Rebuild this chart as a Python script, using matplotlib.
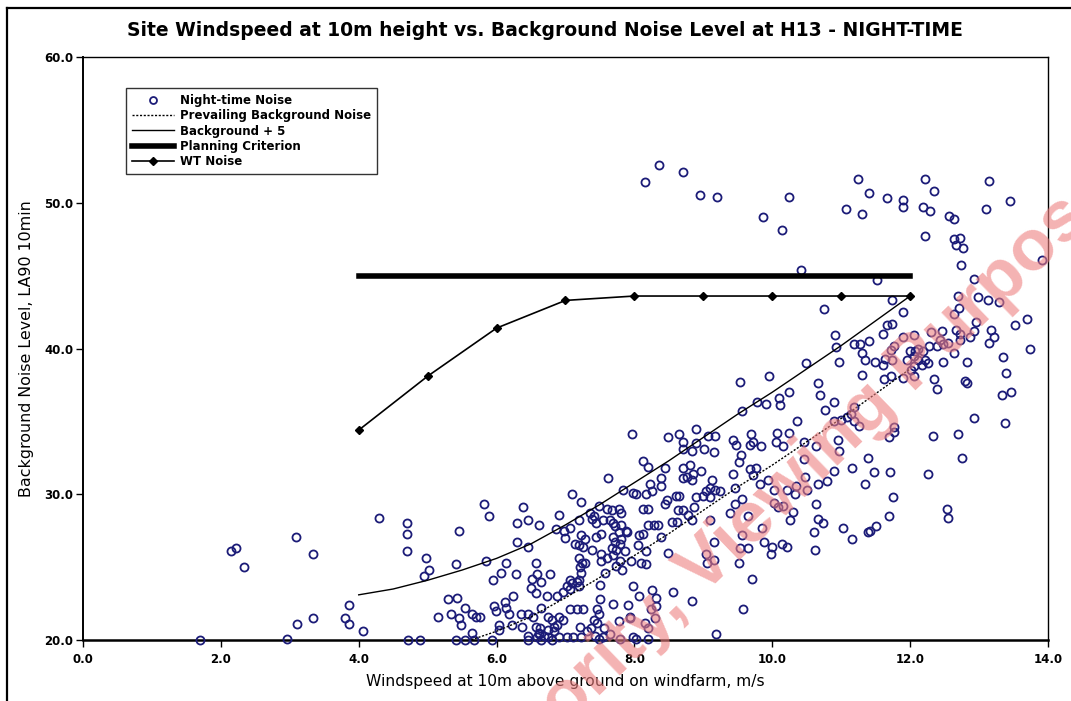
import matplotlib
matplotlib.use("Agg")
import matplotlib.pyplot as plt
from matplotlib.lines import Line2D
import numpy as np

plt.rcParams['font.family'] = 'DejaVu Sans'

# night-time background noise samples (10 min LA90 vs 10m windspeed)
wind_speed = [
    # low wind
    1.70, 2.96, 2.15, 2.22, 2.34, 3.09, 3.33, 3.10, 3.34, 3.80,
    3.86, 3.86, 4.06, 4.29, 4.70, 4.70, 4.70, 4.71, 4.89,
    # 5 - 7 m/s
    5.46, 5.82, 5.89, 6.38, 6.30, 6.46, 6.61, 4.97, 5.02, 4.95,
    5.41, 5.84, 6.29, 6.45, 6.14, 6.07, 5.95, 6.28, 6.57, 6.51,
    6.59, 6.65, 6.78, 6.50, 6.57, 6.73, 5.30, 5.43, 6.24, 5.15,
    5.34, 5.54, 5.46, 5.49, 5.64, 5.70, 5.76, 5.96, 5.99, 6.12,
    6.14, 6.18, 6.04, 6.03, 6.23, 6.35, 6.46, 6.64, 6.37, 6.53,
    6.57, 6.61, 6.45, 6.74, 5.64, 5.41, 5.54, 5.67, 5.93, 6.46,
    6.64, 6.75, 6.80, 6.62, 6.80, 6.84,
    # 7 - 9 m/s
    7.97, 8.49, 8.65, 8.70, 8.70, 8.89, 8.90, 8.83, 8.13, 8.19,
    7.62, 8.45, 8.39, 8.39, 8.22, 8.25, 7.83, 7.98, 8.02, 8.17,
    8.71, 8.81, 8.77, 8.85, 8.71, 8.83, 8.89, 8.47, 8.44, 8.61,
    8.65, 8.13, 8.19, 8.63, 8.71, 8.87, 8.78, 8.84, 7.09, 7.22,
    7.48, 7.36, 7.41, 7.55, 7.69, 7.20, 6.98, 7.00, 7.23, 7.28,
    7.14, 7.19, 7.44, 7.51, 7.69, 7.77, 7.81, 7.89, 8.06, 8.12,
    8.20, 8.28, 8.34, 8.38, 8.55, 8.62, 8.05, 8.17, 8.49, 7.39,
    7.52, 7.52, 7.57, 7.60, 7.69, 7.74, 7.73, 7.79, 7.82, 7.95,
    8.09, 8.17, 7.20, 7.24, 7.29, 7.21, 7.23, 7.07, 7.10, 7.19,
    7.02, 6.97, 7.07, 7.50, 6.87, 7.50, 7.69, 7.91, 7.94, 8.07,
    8.26, 8.31, 8.32, 8.24, 8.30, 8.15, 8.20, 8.56, 8.83, 7.98,
    7.45, 7.49, 7.41, 7.45, 7.37, 7.43, 7.49, 7.56, 7.65, 7.55,
    7.78, 7.94, 7.98, 8.02, 7.79, 8.19, 7.07, 7.16, 7.25, 7.21,
    7.23, 7.11, 7.02, 6.90, 6.83, 6.75, 6.63, 6.69, 6.58, 7.31,
    6.96, 6.90, 6.87,
    6.91, 6.86, 7.60, 7.68, 7.78, 7.80, 7.07, 7.39, 7.44, 7.64,
    7.72, 7.81, 7.88, 7.26, 7.72, 7.67, 7.79, 7.86, 7.17, 7.19,
    8.96,
    # 9 - 11 m/s
    9.53, 10.67, 10.69, 10.25, 10.10, 10.11, 9.78, 9.91, 9.56, 10.90,
    10.76, 11.18, 11.14, 11.08, 10.90, 11.00, 11.18, 11.26, 10.36, 10.25,
    10.07, 10.05, 10.15, 10.46, 10.64, 10.96, 10.97, 9.07, 9.17, 9.01,
    9.15, 9.43, 9.47, 9.69, 9.72, 9.67, 9.83, 9.55, 9.52, 10.46,
    9.43, 9.67, 9.76, 9.72, 9.82, 9.94, 9.13, 9.09, 9.04, 8.99,
    9.09, 9.24, 9.17, 9.46, 9.56, 9.46, 9.38, 10.02, 10.21, 10.35,
    10.33, 10.50, 10.67, 10.80, 10.89, 10.47, 11.16, 11.34, 11.39, 10.02,
    10.09, 10.16, 10.30, 10.26, 10.64, 10.67, 10.74, 10.60, 10.62, 11.03,
    11.16, 11.39, 9.65, 9.85, 9.56, 9.53, 9.65, 9.52, 9.70, 9.88,
    9.99, 9.98, 10.14, 10.21, 9.15, 9.04, 9.05, 9.15, 9.09, 9.57,
    9.18,
    # 11 - 14 m/s
    11.52, 11.74, 11.89, 12.69, 12.71, 12.64, 12.99, 13.13, 13.29, 13.52,
    13.70, 13.74, 12.96, 12.93, 12.87, 12.72, 12.67, 12.72, 13.18, 13.21,
    13.15, 13.35, 13.39, 13.33, 13.46, 13.38, 12.93, 12.69, 12.75, 12.26,
    12.33, 11.76, 11.77, 11.70, 11.47, 11.71, 11.75, 12.53, 12.55, 11.70,
    12.80, 12.83, 12.83, 12.64, 12.48, 12.35, 12.39, 12.31, 12.46, 12.43,
    12.55, 12.48, 12.39, 12.27, 12.19, 12.12, 12.07, 12.00, 12.05, 11.95,
    12.12, 12.05, 12.02, 12.05, 11.90, 12.22, 12.26, 12.17, 11.90, 12.06,
    11.76, 11.72, 11.60, 11.66, 11.73, 11.41, 11.27, 11.30, 11.49, 11.60,
    11.63, 11.73, 11.30, 11.62, 11.72, 10.75, 10.91, 10.93, 10.97, 11.18,
    11.34, 10.49, 9.95, 11.50, 11.42,
    # high readings
    8.16, 8.35, 8.71, 8.95, 9.20, 9.86, 10.24, 10.14, 10.42, 11.24,
    11.41, 11.07, 11.30, 11.67, 11.89, 11.89, 12.22, 12.34, 12.19, 12.29,
    12.22, 12.57, 12.63, 12.63, 12.72, 12.67, 12.77, 12.74, 12.93, 13.10,
    13.15, 13.45, 13.92,
]
la90 = [
    # low wind
    20.0, 20.1, 26.1, 26.3, 25.0, 27.1, 25.9, 21.1, 21.5, 21.5,
    21.1, 22.4, 20.6, 28.4, 28.0, 27.3, 26.1, 20.0, 20.0,
    # 5 - 7 m/s
    27.5, 29.3, 28.5, 29.1, 28.0, 28.2, 27.9, 25.6, 24.8, 24.4,
    25.2, 25.4, 26.7, 26.4, 25.3, 24.6, 24.1, 24.5, 25.3, 24.2,
    24.5, 24.0, 24.5, 23.6, 23.2, 23.0, 22.8, 22.9, 23.0, 21.6,
    21.8, 22.2, 21.5, 21.0, 21.8, 21.6, 21.6, 22.3, 22.0, 22.6,
    22.2, 21.8, 21.0, 20.7, 21.0, 21.8, 21.8, 22.2, 20.9, 21.6,
    20.9, 20.5, 20.3, 21.6, 20.5, 20.0, 20.0, 20.0, 20.0, 20.0,
    20.0, 20.2, 20.0, 20.4, 21.4, 20.6,
    # 7 - 9 m/s
    34.1, 33.9, 34.1, 33.6, 33.1, 34.5, 33.5, 33.0, 32.3, 31.9,
    31.1, 31.8, 31.1, 30.6, 30.7, 30.2, 30.3, 30.1, 30.0, 30.0,
    31.8, 32.0, 31.2, 31.4, 31.1, 31.0, 29.8, 29.6, 29.3, 29.9,
    29.9, 29.0, 29.0, 28.9, 28.9, 29.1, 28.6, 28.2, 30.0, 29.5,
    29.2, 28.7, 28.5, 28.2, 28.0, 28.2, 27.5, 27.0, 27.2, 26.9,
    26.6, 26.5, 27.1, 27.3, 27.1, 27.4, 26.9, 27.4, 27.2, 27.3,
    27.9, 27.9, 27.9, 27.1, 28.1, 28.1, 26.5, 26.1, 26.0, 26.2,
    25.9, 25.4, 24.6, 25.6, 25.8, 26.2, 25.1, 25.4, 24.8, 25.4,
    25.3, 25.2, 25.6, 25.3, 25.3, 25.0, 24.6, 24.1, 23.9, 24.1,
    23.7, 23.3, 23.5, 23.8, 23.0, 22.8, 22.5, 22.4, 21.6, 23.0,
    23.4, 22.9, 22.3, 22.1, 21.5, 21.2, 20.8, 23.3, 22.7, 23.7,
    22.1, 21.8, 21.4, 21.2, 20.8, 20.3, 20.1, 20.8, 20.4, 20.2,
    21.3, 21.5, 20.2, 20.1, 20.1, 20.1, 22.1, 22.1, 22.1, 20.9,
    20.2, 20.2, 20.2, 20.2, 20.9, 20.7, 20.8, 20.3, 20.2, 20.6,
    21.4, 21.6, 21.0,
    28.6, 27.6, 29.0, 28.9, 29.0, 28.7, 27.7, 28.3, 28.0, 28.2,
    27.8, 27.9, 27.5, 26.4, 26.7, 26.3, 26.6, 26.1, 24.0, 23.7,
    31.6,
    # 9 - 11 m/s
    37.7, 37.6, 36.8, 37.0, 36.6, 36.1, 36.3, 36.2, 35.7, 36.3,
    35.8, 36.0, 35.5, 35.3, 35.0, 35.1, 35.0, 34.7, 35.0, 34.2,
    34.2, 33.6, 33.3, 33.6, 33.3, 33.7, 33.0, 34.0, 34.0, 33.1,
    32.9, 33.7, 33.4, 34.1, 33.6, 33.4, 33.3, 32.7, 32.2, 32.4,
    31.4, 31.7, 31.8, 31.3, 30.7, 31.0, 31.0, 30.4, 30.2, 29.9,
    29.8, 30.2, 30.3, 30.4, 29.7, 29.3, 28.7, 30.3, 30.3, 30.6,
    30.0, 30.3, 30.7, 30.9, 31.6, 31.2, 31.8, 30.7, 32.5, 29.4,
    29.1, 29.2, 28.8, 28.2, 29.3, 28.3, 28.0, 27.4, 26.2, 27.7,
    26.9, 27.4, 28.5, 27.7, 27.2, 26.3, 26.3, 25.3, 24.2, 26.7,
    26.4, 25.9, 26.6, 26.4, 26.7, 25.9, 25.3, 25.5, 28.2, 22.1,
    20.4,
    # 11 - 14 m/s
    44.7, 43.3, 42.5, 43.6, 42.8, 42.4, 43.5, 43.3, 43.2, 41.6,
    42.0, 40.0, 41.8, 41.2, 40.8, 40.6, 41.3, 41.0, 41.3, 40.8,
    40.4, 39.4, 38.3, 36.8, 37.0, 34.9, 35.2, 34.1, 32.5, 31.4,
    34.0, 34.6, 34.3, 33.9, 31.5, 31.5, 29.8, 29.0, 28.4, 28.5,
    37.8, 37.6, 39.1, 39.7, 39.1, 37.9, 37.2, 41.1, 41.2, 40.6,
    40.4, 40.3, 40.2, 40.2, 39.8, 40.0, 39.8, 39.8, 39.5, 39.2,
    39.2, 38.8, 38.5, 38.1, 38.0, 39.2, 39.0, 38.9, 40.8, 40.9,
    40.2, 39.9, 41.0, 41.6, 41.7, 40.5, 40.3, 39.7, 39.1, 38.9,
    39.3, 39.2, 38.2, 37.9, 38.1, 42.7, 40.9, 40.1, 39.1, 40.3,
    39.2, 39.0, 38.1, 27.8, 27.5,
    # high readings
    51.4, 52.6, 52.1, 50.5, 50.4, 49.0, 50.4, 48.1, 45.4, 51.6,
    50.7, 49.6, 49.2, 50.3, 50.2, 49.7, 51.6, 50.8, 49.7, 49.4,
    47.7, 49.1, 48.9, 47.5, 47.6, 47.1, 46.9, 45.7, 44.8, 49.6,
    51.5, 50.1, 46.1,
]

# prevailing background noise curve
curve_ws = [4.0, 4.5, 5.0, 5.5, 6.0, 6.5, 7.0, 7.5, 8.0,
            8.5, 9.0, 9.5, 10.0, 10.5, 11.0, 11.5, 12.0]
prevailing = [18.1, 18.5, 19.1, 19.8, 20.6, 21.6, 22.9, 24.3, 25.8,
              27.3, 28.9, 30.5, 32.0, 33.6, 35.2, 36.9, 38.6]
margin = 5.0

# planning criterion and predicted turbine noise
criterion_ws = [4.0, 12.0]
criterion_db = [45.0, 45.0]
wt_ws = [4, 5, 6, 7, 8, 9, 10, 11, 12]
wt_db = [34.4, 38.1, 41.4, 43.3, 43.6, 43.6, 43.6, 43.6, 43.6]

navy = '#1c1c78'
dotted = (0, (1.5, 1.2))

fig = plt.figure(figsize=(10.71, 7.01), dpi=100)
ax = fig.add_axes([0.0775, 0.087, 0.901, 0.8317])

ax.plot(wind_speed, la90, linestyle='none', marker='o', markersize=5.8,
        markerfacecolor='none', markeredgecolor=navy, markeredgewidth=1.3,
        clip_on=False, zorder=3)
ax.plot(curve_ws, prevailing, color='black', linestyle=dotted, lw=1.0, zorder=4)
ax.plot(curve_ws, np.array(prevailing) + margin, color='black', lw=1.0, zorder=4)
ax.plot(criterion_ws, criterion_db, color='black', lw=4.0, solid_capstyle='projecting', zorder=4)
ax.plot(wt_ws, wt_db, color='black', lw=1.2, marker='D', markersize=4.2, zorder=4)

ax.set_xlim(0, 14)
ax.set_ylim(20, 60)
ax.set_xticks(np.arange(0, 15, 2))
ax.set_yticks(np.arange(20, 61, 10))
ax.xaxis.set_major_formatter(matplotlib.ticker.FormatStrFormatter('%.1f'))
ax.yaxis.set_major_formatter(matplotlib.ticker.FormatStrFormatter('%.1f'))
ax.tick_params(direction='out', length=5, width=1.0, labelsize=8.5)
ax.tick_params(axis='x', pad=4)
ax.tick_params(axis='y', pad=2)
for lab in ax.get_xticklabels() + ax.get_yticklabels():
    lab.set_fontweight('bold')
for sp in ax.spines.values():
    sp.set_linewidth(1.0)
ax.spines['bottom'].set_linewidth(1.8)
ax.spines['left'].set_linewidth(1.4)

ax.set_xlabel('Windspeed at 10m above ground on windfarm, m/s', fontsize=11.2, labelpad=6)
ax.set_ylabel('Background Noise Level, LA90 10min', fontsize=11.4, labelpad=7)
fig.text(0.509, 0.957, 'Site Windspeed at 10m height vs. Background Noise Level at H13 - NIGHT-TIME',
         ha='center', va='center', fontsize=13.5, fontweight='bold')

handles = [
    Line2D([], [], linestyle='none', marker='o', markersize=5, markerfacecolor='none',
           markeredgecolor=navy, markeredgewidth=1.3),
    Line2D([], [], color='black', linestyle=dotted, lw=1.0),
    Line2D([], [], color='black', lw=1.0),
    Line2D([], [], color='black', lw=4.0),
    Line2D([], [], color='black', lw=1.2, marker='D', markersize=4.2),
]
names = ['Night-time Noise', 'Prevailing Background Noise', 'Background + 5',
         'Planning Criterion', 'WT Noise']
leg = ax.legend(handles, names, loc='upper left', bbox_to_anchor=(0.0446, 0.947),
                borderaxespad=0, frameon=True, fancybox=False, edgecolor='black',
                handlelength=3.6, handletextpad=0.5, labelspacing=0.2,
                borderpad=0.5, prop={'size': 8.5, 'weight': 'bold'})
leg.get_frame().set_linewidth(1.0)

# page border of the scanned sheet
fig.add_artist(Line2D([0.007, 0.007], [0.0, 0.989], color='black', lw=1.6,
                      transform=fig.transFigure))
fig.add_artist(Line2D([0.007, 1.0], [0.989, 0.989], color='black', lw=1.6,
                      transform=fig.transFigure))

# red watermark across the sheet
wm = dict(rotation=44, rotation_mode='anchor', va='baseline', fontsize=52,
          fontweight='bold', family='Liberation Sans', color='#ee8080',
          alpha=0.6, zorder=10)
fig.text(0.656, 0.150, 'Planning Authority, ', ha='right', **wm)
fig.text(0.656, 0.150, 'Viewing Purposes Only', ha='left', **wm)

fig.savefig('out.png', dpi=100)
